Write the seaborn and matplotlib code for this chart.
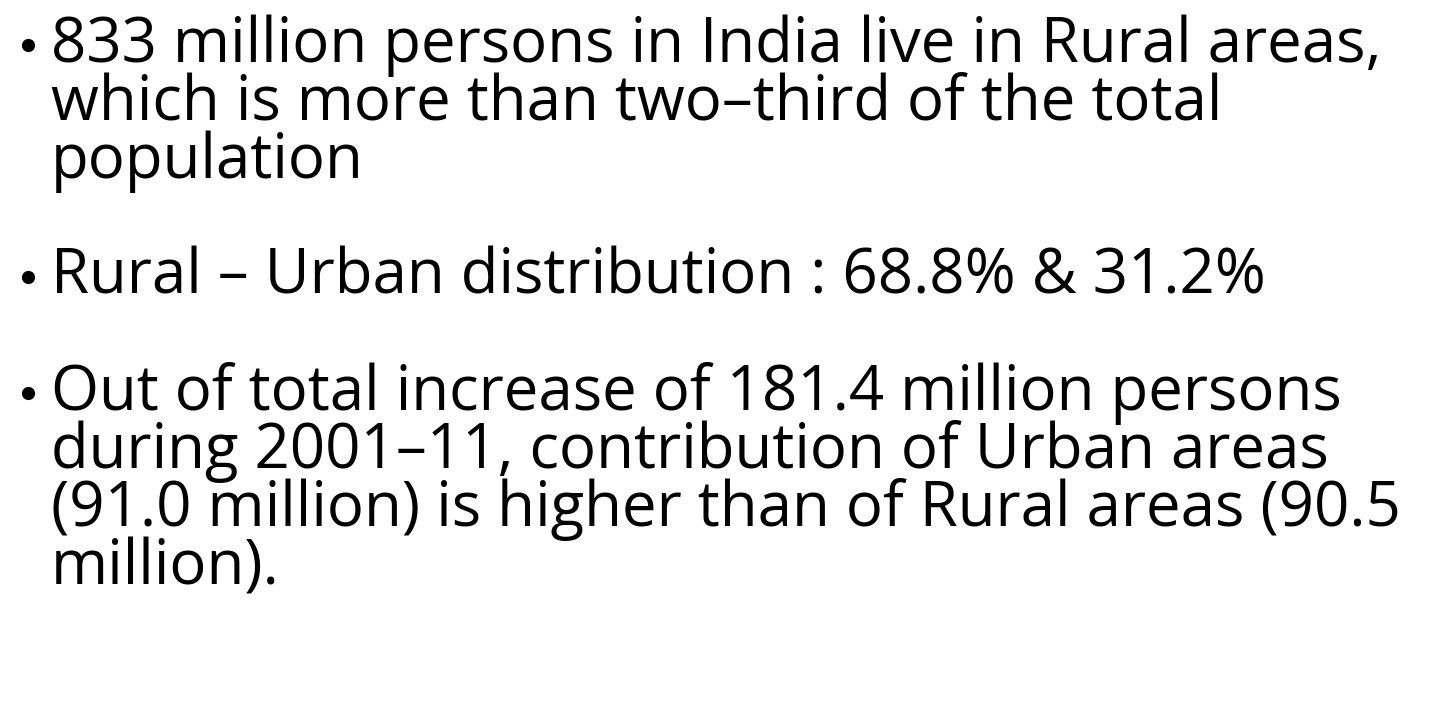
import seaborn as sns
import matplotlib.pyplot as plt

# slide text, one list of wrapped lines per bullet
bullet_1 = ["833 million persons in India live in Rural areas,",
            "which is more than two\u2013third of the total",
            "population"]
bullet_2 = ["Rural \u2013 Urban distribution : 68.8% & 31.2%"]
bullet_3 = ["Out of total increase of 181.4 million persons",
            "during 2001\u201311, contribution of Urban areas",
            "(91.0 million) is higher than of Rural areas (90.5",
            "million)."]
bullets = [bullet_1, bullet_2, bullet_3]

sns.set_style("white")
plt.rcParams['font.family'] = ['Open Sans', 'DejaVu Sans']

fig = plt.figure(figsize=(14.34, 7.17), dpi=100)
ax = fig.add_axes([0, 0, 1, 1])
ax.set_xlim(0, 1434)
ax.set_ylim(717, 0)
ax.axis("off")

fs = 44.5
line_gap = 58
para_gap = 116
y = 62
for lines in bullets:
    # bullet dot sits at mid x-height
    ax.plot(28, y - 17, "o", color="black", markersize=8.5)
    for i, line in enumerate(lines):
        ax.text(51, y, line, fontsize=fs, va="baseline", ha="left", color="black")
        if i < len(lines) - 1:
            y += line_gap
    y += para_gap

fig.savefig("out.png", dpi=100, facecolor="white")
